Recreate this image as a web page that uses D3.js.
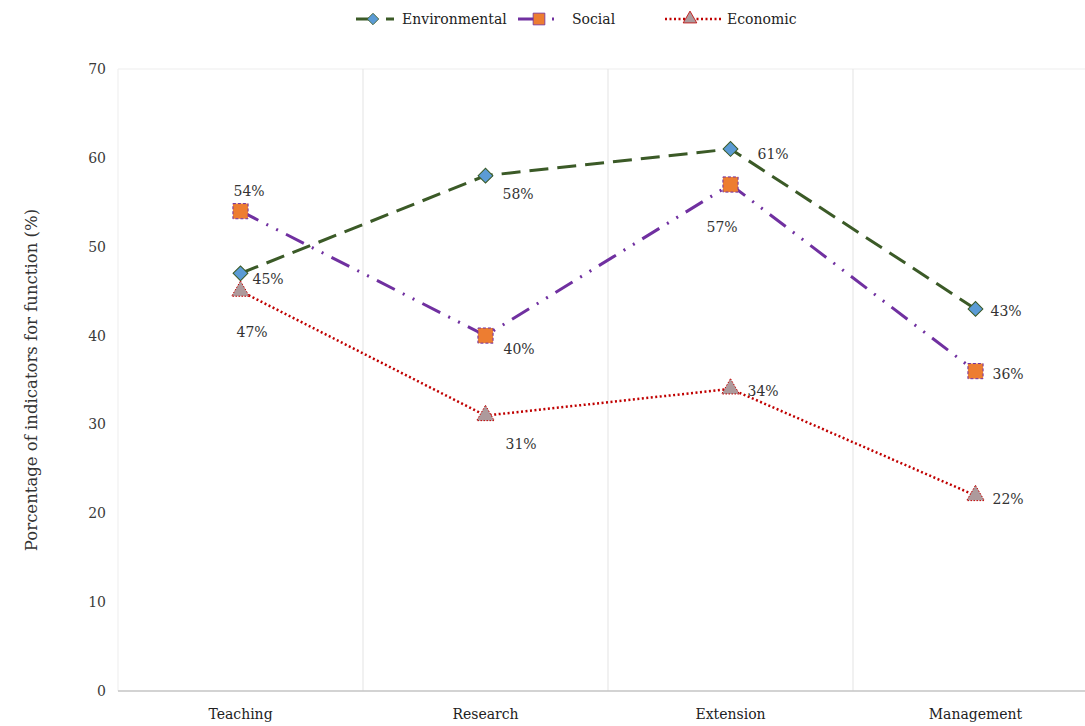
<!DOCTYPE html>
<html>
<head>
<meta charset="utf-8">
<script src="https://cdn.jsdelivr.net/npm/d3@7"></script>
<style>
  body { margin: 0; background: #fff; }
  text { font-family: "DejaVu Serif", serif; }
</style>
</head>
<body>
<div id="vis"></div>
<script>
// chart data
const categories = ["Teaching", "Research", "Extension", "Management"];
const environmental = [47, 58, 61, 43];
const social = [54, 40, 57, 36];
const economic = [45, 31, 34, 22];
// the labels as printed (teaching labels are swapped in the original)
const envLabels = ["45%", "58%", "61%", "43%"];
const socLabels = ["54%", "40%", "57%", "36%"];
const ecoLabels = ["47%", "31%", "34%", "22%"];
const yTicks = [0, 10, 20, 30, 40, 50, 60, 70];

const FRAME_WIDTH = 1085;
const FRAME_HEIGHT = 726;
const MARGINS = {left: 118, right: -13, top: 69, bottom: 35};

const svg = d3.select("#vis")
  .append("svg")
    .attr("width", FRAME_WIDTH)
    .attr("height", FRAME_HEIGHT);

const X_SCALE = d3.scaleBand()
  .domain(categories)
  .range([MARGINS.left, FRAME_WIDTH - MARGINS.right]);

const Y_SCALE = d3.scaleLinear()
  .domain([0, 70])
  .range([FRAME_HEIGHT - MARGINS.bottom, MARGINS.top]);

const cx = (d, i) => X_SCALE(categories[i]) + X_SCALE.bandwidth() / 2;

// frame + vertical gridlines between categories
svg.append("line")
  .attr("x1", MARGINS.left).attr("x2", FRAME_WIDTH)
  .attr("y1", MARGINS.top).attr("y2", MARGINS.top)
  .attr("stroke", "#ededed");
svg.append("line")
  .attr("x1", MARGINS.left).attr("x2", MARGINS.left)
  .attr("y1", MARGINS.top).attr("y2", Y_SCALE(0))
  .attr("stroke", "#ededed");
svg.selectAll(".vgrid")
  .data(categories.slice(1))
  .enter()
  .append("line")
    .attr("x1", d => X_SCALE(d)).attr("x2", d => X_SCALE(d))
    .attr("y1", MARGINS.top).attr("y2", Y_SCALE(0))
    .attr("stroke", "#e3e3e3");

// x axis line
svg.append("line")
  .attr("x1", MARGINS.left).attr("x2", FRAME_WIDTH)
  .attr("y1", Y_SCALE(0)).attr("y2", Y_SCALE(0))
  .attr("stroke", "#c4c4c4").attr("stroke-width", 1.5);

// y tick labels
const yAxis = d3.axisLeft(Y_SCALE).tickValues(yTicks).tickSize(0).tickPadding(12);
const gy = svg.append("g")
  .attr("transform", `translate(${MARGINS.left},0)`)
  .call(yAxis);
gy.select(".domain").remove();
gy.selectAll("text")
  .style("font-family", "DejaVu Serif, serif")
  .style("font-size", "14px")
  .attr("fill", "#3a3a3a");

// x tick labels
const xAxis = d3.axisBottom(X_SCALE).tickSize(0).tickPadding(18);
const gx = svg.append("g")
  .attr("transform", `translate(0,${Y_SCALE(0)})`)
  .call(xAxis);
gx.select(".domain").remove();
gx.selectAll("text")
  .style("font-family", "DejaVu Serif, serif")
  .style("font-size", "14px")
  .attr("fill", "#222");

// y axis title
svg.append("text")
  .attr("transform", "translate(37,380) rotate(-90)")
  .attr("text-anchor", "middle")
  .style("font-size", "16.5px")
  .attr("fill", "#333")
  .text("Porcentage of indicators for function (%)");

const series = [
  {name: "Environmental", values: environmental, labels: envLabels,
   color: "#3b5a27", dash: "19,9", width: 3,
   symbol: d3.symbolSquare, size: 110, rotate: 45, fill: "#5b9bd5", mstroke: "#3b5a27", mdash: null,
   offsets: [[12, 11], [17, 23], [27, 10], [15, 7]]},
  {name: "Social", values: social, labels: socLabels,
   color: "#7030a0", dash: "20,9,2,9,2,9", width: 3,
   symbol: d3.symbolSquare, size: 230, rotate: 0, fill: "#ed7d31", mstroke: "#7030a0", mdash: "3,2",
   offsets: [[-7, -15], [18, 18], [-24, 47], [17, 8]]},
  {name: "Economic", values: economic, labels: ecoLabels,
   color: "#c00000", dash: "2,2.5", width: 2.5,
   symbol: d3.symbolTriangle, size: 135, rotate: 0, fill: "#ad9a9c", mstroke: "#c00000", mdash: "1.5,1.5",
   offsets: [[-4, 46], [20, 33], [17, 7], [17, 8]]}
];

const line = d3.line()
  .x((d, i) => cx(d, i))
  .y(d => Y_SCALE(d));

series.forEach(s => {
  svg.append("path")
    .datum(s.values)
    .attr("d", line)
    .attr("fill", "none")
    .attr("stroke", s.color)
    .attr("stroke-width", s.width)
    .attr("stroke-dasharray", s.dash);
});

series.forEach(s => {
  svg.selectAll(".m-" + s.name)
    .data(s.values)
    .enter()
    .append("path")
      .attr("d", d3.symbol().type(s.symbol).size(s.size))
      .attr("transform", (d, i) => `translate(${cx(d, i)},${Y_SCALE(d)}) rotate(${s.rotate})`)
      .attr("fill", s.fill)
      .attr("stroke", s.mstroke)
      .attr("stroke-width", 1)
      .attr("stroke-dasharray", s.mdash);

  svg.selectAll(".l-" + s.name)
    .data(s.values)
    .enter()
    .append("text")
      .attr("x", (d, i) => cx(d, i) + s.offsets[i][0])
      .attr("y", (d, i) => Y_SCALE(d) + s.offsets[i][1])
      .style("font-size", "14px")
      .attr("fill", "#333")
      .text((d, i) => s.labels[i]);
});

// legend
const legendItems = [
  {s: series[0], x1: 356, x2: 397, mx: 373, dash: "21,9,8,100", tx: 402},
  {s: series[1], x1: 518, x2: 558, mx: 539, dash: "24,10,2,100", tx: 572},
  {s: series[2], x1: 665, x2: 721, mx: 690, dash: "2,2.5", tx: 727}
];
const LEG_Y = 19;
legendItems.forEach(it => {
  svg.append("line")
    .attr("x1", it.x1).attr("x2", it.x2)
    .attr("y1", LEG_Y).attr("y2", LEG_Y)
    .attr("stroke", it.s.color)
    .attr("stroke-width", it.s.width)
    .attr("stroke-dasharray", it.dash);
  svg.append("path")
    .attr("d", d3.symbol().type(it.s.symbol).size(it.s.size * 0.6))
    .attr("transform", `translate(${it.mx},${LEG_Y}) rotate(${it.s.rotate})`)
    .attr("fill", it.s.fill)
    .attr("stroke", it.s.mstroke)
    .attr("stroke-width", 0.8);
  svg.append("text")
    .attr("x", it.tx).attr("y", LEG_Y + 5)
    .style("font-size", "14px")
    .attr("fill", "#222")
    .text(it.s.name);
});
</script>
</body>
</html>
